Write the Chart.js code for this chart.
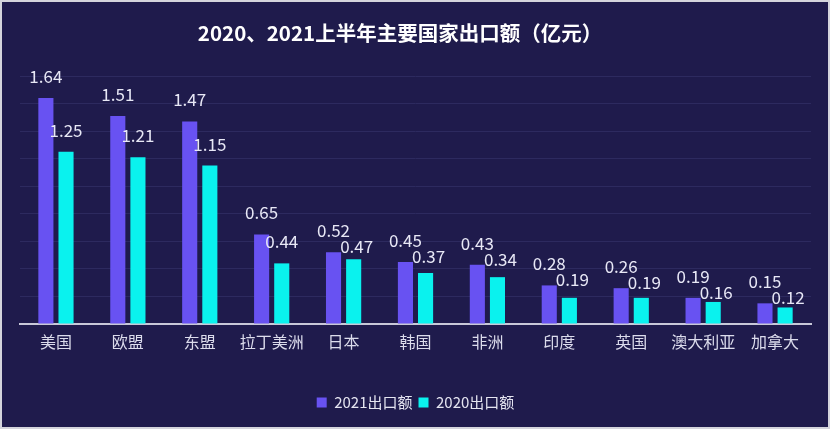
<!DOCTYPE html>
<html><head><meta charset="utf-8">
<script src="https://cdn.jsdelivr.net/npm/chart.js@4/dist/chart.umd.min.js"></script>
<style>html,body{margin:0;padding:0;background:#1f1b4c;}#wrap{width:830px;height:429px;position:relative;}</style>
</head><body>
<div id="wrap"><canvas id="c" width="830" height="429"></canvas></div>
<script>
const categories = ['美国','欧盟','东盟','拉丁美洲','日本','韩国','非洲','印度','英国','澳大利亚','加拿大'];
const exports2021 = [1.64,1.51,1.47,0.65,0.52,0.45,0.43,0.28,0.26,0.19,0.15];
const exports2020 = [1.25,1.21,1.15,0.44,0.47,0.37,0.34,0.19,0.19,0.16,0.12];
const seriesNames = ['2021出口额','2020出口额'];
const titleText = '2020、2021上半年主要国家出口额（亿元）';

const FONT = "'Noto Sans CJK SC','Noto Sans',sans-serif";

const bgPlugin = {
  id:'bg',
  beforeDraw(chart){
    const ctx = chart.ctx;
    ctx.save();
    ctx.fillStyle = '#d4d4dc';
    ctx.fillRect(0,0,chart.width,chart.height);
    ctx.fillStyle = '#1f1b4c';
    ctx.fillRect(2,2,chart.width-4,chart.height-4);
    ctx.font = 'bold 20.5px ' + FONT;
    ctx.fillStyle = '#ffffff';
    ctx.textAlign = 'center';
    ctx.textBaseline = 'middle';
    ctx.fillText(titleText, 400, 33);
    ctx.restore();
  }
};
const labelPlugin = {
  id:'vlabels',
  afterDatasetsDraw(chart){
    const ctx = chart.ctx;
    ctx.save();
    ctx.font = '17px ' + FONT;
    ctx.fillStyle = '#e8e8f6';
    ctx.textAlign = 'center';
    ctx.textBaseline = 'alphabetic';
    const m0 = chart.getDatasetMeta(0), m1 = chart.getDatasetMeta(1);
    const d0 = chart.data.datasets[0].data, d1 = chart.data.datasets[1].data;
    m0.data.forEach((el,i)=>{
      const b0 = el.y - 15;
      ctx.fillText(d0[i].toFixed(2), el.x, b0);
      const e1 = m1.data[i];
      const natural = e1.y - 15;
      const b1 = Math.max(natural, b0 + 16);
      ctx.fillText(d1[i].toFixed(2), e1.x + (b1 > natural ? 3 : 0), b1);
    });
    ctx.restore();
  }
};

new Chart(document.getElementById('c'), {
  type:'bar',
  data:{
    labels:categories,
    datasets:[
      {label:seriesNames[0], data:exports2021, backgroundColor:'#6852f2', categoryPercentage:0.56, barPercentage:0.75},
      {label:seriesNames[1], data:exports2020, backgroundColor:'#0af2ee', categoryPercentage:0.56, barPercentage:0.75}
    ]
  },
  options:{
    responsive:false,
    animation:false,
    layout:{padding:{left:20,right:19,top:76,bottom:9}},
    plugins:{
      title:{display:false},
      legend:{position:'bottom',labels:{color:'#e4e4f0',font:{family:FONT,size:15},boxWidth:10,boxHeight:10,padding:6}},
      tooltip:{enabled:false}
    },
    scales:{
      x:{
        grid:{display:false,drawTicks:false},
        border:{display:true,color:'#c8c8d8',width:2},
        ticks:{color:'#dcdcec',font:{family:FONT,size:16},padding:8,maxRotation:0,autoSkip:false},
        afterFit(scale){ scale.height = 65; }
      },
      y:{
        min:0,max:1.8,
        ticks:{display:false,stepSize:0.2},
        grid:{color:'#2d2a5f',drawTicks:false,lineWidth:1},
        border:{display:false}
      }
    }
  },
  plugins:[bgPlugin,labelPlugin]
});
</script>
</body></html>
